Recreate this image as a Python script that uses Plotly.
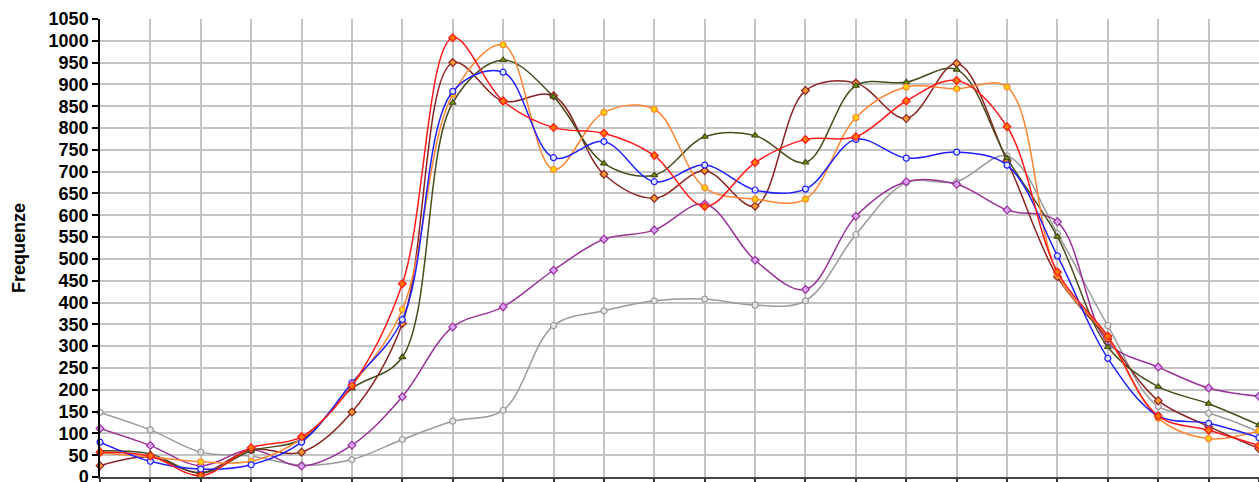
import plotly.graph_objects as go

# Category positions along the x axis (tick labels are not shown)
positions = list(range(24))

# Frequency series
blue = [80, 36, 18, 28, 80, 216, 361, 884, 928, 732, 769, 677, 715, 658, 660, 774, 731, 745, 715, 507, 272, 140, 123, 90]
gray = [148, 108, 57, 48, 27, 40, 86, 128, 153, 347, 381, 404, 408, 394, 404, 556, 675, 677, 736, 558, 347, 162, 146, 103]
purple = [111, 72, 26, 63, 25, 73, 184, 344, 390, 474, 545, 566, 626, 497, 430, 598, 677, 671, 612, 585, 308, 252, 204, 185]
olive = [60, 53, 9, 60, 86, 203, 275, 858, 956, 872, 719, 692, 780, 783, 721, 897, 905, 934, 731, 551, 298, 207, 168, 119]
brown = [26, 46, 10, 63, 57, 149, 352, 950, 862, 874, 694, 639, 702, 621, 886, 903, 822, 948, 725, 459, 317, 175, 116, 65]
red = [57, 48, 3, 67, 92, 210, 443, 1007, 862, 801, 788, 737, 620, 721, 774, 780, 862, 909, 803, 470, 323, 140, 107, 72]
orange = [55, 46, 35, 36, 88, 210, 384, 877, 991, 705, 836, 843, 663, 637, 637, 824, 894, 890, 894, 465, 320, 135, 88, 106]

y_ticks = list(range(0, 1051, 50))

# (values, line colour, marker symbol, marker fill) in drawing order
series = [
    (gray, "#9a9a9a", "circle", "#e6e6e6"),
    (purple, "#993399", "diamond", "#d9a0ff"),
    (brown, "#8b2323", "diamond", "#ff9933"),
    (olive, "#4a4a1c", "triangle-up", "#669900"),
    (orange, "#ff8533", "circle", "#ffd000"),
    (blue, "#1f1fff", "circle", "#dde4ff"),
    (red, "#ff1a1a", "diamond", "#ff7700"),
]

fig = go.Figure()
for values, color, symbol, fill in series:
    fig.add_trace(go.Scatter(
        x=positions, y=values, mode="lines+markers",
        line=dict(color=color, width=1.5, shape="spline", smoothing=1.0),
        marker=dict(symbol=symbol, size=6, color=fill, line=dict(color=color, width=1.2)),
        cliponaxis=False, showlegend=False,
    ))

tick_font = dict(family="Liberation Sans Narrow, Arial Narrow, Liberation Sans, Arial",
                 size=18, color="black", weight="bold")

fig.update_layout(
    width=1259, height=482,
    margin=dict(l=100, r=0, t=19, b=5),
    paper_bgcolor="white", plot_bgcolor="white",
    xaxis=dict(
        range=[0, 23], tickvals=positions, showticklabels=False, automargin=False,
        showgrid=True, gridcolor="#c4c4c4", gridwidth=1.5,
        ticks="outside", ticklen=6, tickcolor="#333333", tickwidth=1.5,
        showline=True, linecolor="#444444", linewidth=2, zeroline=False,
    ),
    yaxis=dict(
        range=[0, 1050], tickvals=y_ticks, ticktext=[str(v) for v in y_ticks],
        automargin=False,
        showgrid=True, gridcolor="#c4c4c4", gridwidth=1.5,
        ticks="outside", ticklen=6, tickcolor="black", tickwidth=1.5,
        showline=True, linecolor="black", linewidth=1.5, zeroline=False,
        tickfont=tick_font, ticklabeloverflow="allow",
    ),
    annotations=[dict(
        text="Frequenze", textangle=-90, showarrow=False,
        xref="paper", yref="paper", x=(19 - 100) / 1159, y=0.5,
        xanchor="center", yanchor="middle",
        font=dict(family="Liberation Sans, Arial", size=18, color="black", weight="bold"),
    )],
)

fig.write_html("out.html")
